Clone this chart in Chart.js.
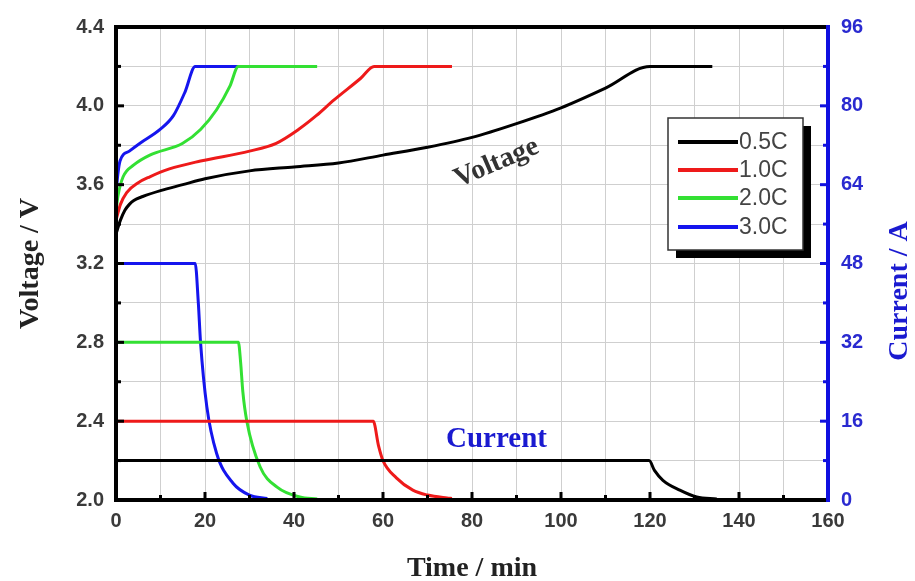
<!DOCTYPE html>
<html>
<head>
<meta charset="utf-8">
<script src="https://cdn.jsdelivr.net/npm/chart.js@4.4.1/dist/chart.umd.min.js"></script>
<style>
  html, body { margin: 0; padding: 0; background: #fff; }
  #wrap { width: 915px; height: 581px; }
</style>
</head>
<body>
<div id="wrap"><canvas id="chart" width="915" height="581"></canvas></div>
<script>
// charge curves: voltage (left axis) and current (right axis) vs time in minutes
var rates = ['0.5C', '1.0C', '2.0C', '3.0C'];
var rateColors = ['#000000', '#ee1a1a', '#33e033', '#1515ee'];

// voltage, V
var tV05 = [0, 1, 2, 3, 4, 6, 10, 15, 20, 30, 40, 50, 60, 70, 80, 90, 100, 110, 120, 134];
var vV05 = [3.35, 3.42, 3.47, 3.50, 3.52, 3.54, 3.57, 3.60, 3.63, 3.67, 3.69, 3.71, 3.75, 3.79, 3.84, 3.91, 3.99, 4.09, 4.20, 4.20];
var tV10 = [0, 1, 2.4, 5, 7.6, 12, 19, 30, 36, 41, 45, 49, 55, 58, 75.5];
var vV10 = [3.42, 3.50, 3.56, 3.61, 3.64, 3.68, 3.72, 3.77, 3.81, 3.88, 3.95, 4.03, 4.14, 4.20, 4.20];
var tV20 = [0, 0.5, 1.6, 4, 7.6, 15, 19, 22.6, 25.6, 27.5, 45.2];
var vV20 = [3.47, 3.55, 3.64, 3.70, 3.75, 3.81, 3.88, 3.98, 4.10, 4.20, 4.20];
var tV30 = [0, 0.4, 0.9, 3, 5.4, 9.9, 12.9, 15.5, 17.8, 34];
var vV30 = [3.55, 3.65, 3.72, 3.77, 3.81, 3.88, 3.95, 4.07, 4.20, 4.20];

// current, A
var tI05 = [0, 119.8, 121, 122.9, 126.7, 130.5, 135];
var iI05 = [8, 8, 6, 4, 2, 0.6, 0.2];
var tI10 = [0, 57.8, 59, 60, 63, 66.7, 70, 74.4, 75.5];
var iI10 = [16, 16, 11, 8, 4.5, 2, 1, 0.4, 0.3];
var tI20 = [0, 27.5, 28, 28.5, 29.4, 32.4, 36.2, 41.3, 45.2];
var iI20 = [32, 32, 28, 22, 16, 6.7, 2.6, 0.6, 0.2];
var tI30 = [0, 17.8, 18.5, 19, 20.4, 22.6, 26.3, 30, 34];
var iI30 = [48, 48, 40, 32, 19, 9.5, 3.4, 1, 0.3];

// axis ranges
var timeMax = 160, timeStep = 10;
var voltMin = 2.0, voltMax = 4.4, voltStep = 0.2;
var currMax = 96, currStep = 8;

function pts(t, v) {
  var out = [];
  for (var i = 0; i < t.length; i++) out.push({x: t[i], y: v[i]});
  return out;
}

var voltSets = [[tV05, vV05], [tV10, vV10], [tV20, vV20], [tV30, vV30]];
var currSets = [[tI05, iI05], [tI10, iI10], [tI20, iI20], [tI30, iI30]];

var datasets = [];
for (var k = 0; k < rates.length; k++) {
  datasets.push({
    label: rates[k],
    data: pts(voltSets[k][0], voltSets[k][1]),
    yAxisID: 'y',
    borderColor: rateColors[k],
    borderWidth: 3,
    pointRadius: 0,
    cubicInterpolationMode: 'monotone',
    showLine: true
  });
}
for (var k = 0; k < rates.length; k++) {
  datasets.push({
    label: rates[k] + ' I',
    data: pts(currSets[k][0], currSets[k][1]),
    yAxisID: 'y1',
    borderColor: rateColors[k],
    borderWidth: 3,
    pointRadius: 0,
    cubicInterpolationMode: 'monotone',
    showLine: true
  });
}

var tickFont = {family: 'Liberation Sans, Arial', size: 20, weight: 'bold'};
var titleFamily = 'Liberation Serif, Times New Roman, serif';

// frame, inward tick marks, legend box, text labels
var decorations = {
  id: 'decorations',
  afterDraw: function(chart) {
    var ctx = chart.ctx;
    var a = chart.chartArea;
    var sx = chart.scales.x, sy = chart.scales.y, sy1 = chart.scales.y1;
    ctx.save();

    // inward ticks
    ctx.lineWidth = 3;
    ctx.strokeStyle = '#000';
    for (var t = 0; t <= timeMax; t += timeStep) {
      var px = sx.getPixelForValue(t);
      var len = (t % 20 === 0) ? 8 : 5;
      ctx.beginPath(); ctx.moveTo(px, a.bottom); ctx.lineTo(px, a.bottom - len); ctx.stroke();
    }
    for (var i = 0; i <= Math.round((voltMax - voltMin) / voltStep); i++) {
      var py = sy.getPixelForValue(voltMin + i * voltStep);
      var len2 = (i % 2 === 0) ? 8 : 5;
      ctx.beginPath(); ctx.moveTo(a.left, py); ctx.lineTo(a.left + len2, py); ctx.stroke();
    }
    ctx.strokeStyle = '#1010e0';
    for (var c = 0; c <= currMax; c += currStep) {
      var py1 = sy1.getPixelForValue(c);
      var len3 = (c % 16 === 0) ? 8 : 5;
      ctx.beginPath(); ctx.moveTo(a.right, py1); ctx.lineTo(a.right - len3, py1); ctx.stroke();
    }

    // frame
    ctx.lineWidth = 4;
    ctx.strokeStyle = '#000';
    ctx.beginPath();
    ctx.moveTo(a.right, a.top); ctx.lineTo(a.left, a.top);
    ctx.lineTo(a.left, a.bottom); ctx.lineTo(a.right, a.bottom);
    ctx.stroke();
    ctx.strokeStyle = '#1010e0';
    ctx.beginPath(); ctx.moveTo(a.right, a.top - 2); ctx.lineTo(a.right, a.bottom + 2); ctx.stroke();

    // legend box with shadow
    var lx = 668, ly = 118, lw = 135, lh = 132;
    ctx.fillStyle = '#000';
    ctx.fillRect(lx + 8, ly + 8, lw, lh);
    ctx.fillStyle = '#fff';
    ctx.fillRect(lx, ly, lw, lh);
    ctx.lineWidth = 1.5;
    ctx.strokeStyle = '#333';
    ctx.strokeRect(lx, ly, lw, lh);
    ctx.font = '23px Liberation Sans, Arial';
    ctx.textBaseline = 'middle';
    ctx.textAlign = 'left';
    var rowY = [142, 170, 198, 227];
    for (var r = 0; r < rates.length; r++) {
      ctx.strokeStyle = rateColors[r];
      ctx.lineWidth = 4;
      ctx.beginPath(); ctx.moveTo(678, rowY[r]); ctx.lineTo(738, rowY[r]); ctx.stroke();
      ctx.fillStyle = '#444';
      ctx.fillText(rates[r], 739, rowY[r] + 1);
    }

    // curve labels
    ctx.save();
    ctx.translate(sx.getPixelForValue(85.5), sy.getPixelForValue(3.71));
    ctx.rotate(-23.3 * Math.PI / 180);
    ctx.font = 'bold 28px ' + titleFamily;
    ctx.fillStyle = '#333';
    ctx.textAlign = 'center';
    ctx.textBaseline = 'middle';
    ctx.fillText('Voltage', 0, 0);
    ctx.restore();

    ctx.font = 'bold 29px ' + titleFamily;
    ctx.fillStyle = '#1a1ad0';
    ctx.textAlign = 'center';
    ctx.textBaseline = 'middle';
    ctx.fillText('Current', sx.getPixelForValue(85.5), sy1.getPixelForValue(12.2));

    // right axis title, reads bottom to top
    ctx.save();
    ctx.translate(900, 291);
    ctx.rotate(-Math.PI / 2);
    ctx.font = 'bold 28px ' + titleFamily;
    ctx.fillStyle = '#1a1ad0';
    ctx.textAlign = 'center';
    ctx.textBaseline = 'middle';
    ctx.fillText('Current / A', 0, 0);
    ctx.restore();

    ctx.restore();
  }
};

new Chart(document.getElementById('chart'), {
  type: 'scatter',
  data: {datasets: datasets},
  options: {
    responsive: false,
    animation: false,
    layout: {padding: {top: 27, left: 0, right: 0, bottom: 0}},
    plugins: {legend: {display: false}, tooltip: {enabled: false}},
    scales: {
      x: {
        type: 'linear', min: 0, max: timeMax,
        afterFit: function(s) { s.height = 81; },
        ticks: {
          stepSize: timeStep, font: tickFont, color: '#3a3a3a', padding: 9, maxRotation: 0,
          callback: function(v) { return v % 20 === 0 ? String(v) : ''; }
        },
        grid: {color: '#cfcfcf', lineWidth: 1, drawTicks: false},
        border: {display: false},
        title: {display: true, text: 'Time / min', color: '#222', padding: {top: 0, bottom: -5},
                font: {family: titleFamily, size: 28, weight: 'bold'}}
      },
      y: {
        type: 'linear', position: 'left', min: voltMin, max: voltMax,
        afterFit: function(s) { s.width = 116; },
        ticks: {
          stepSize: voltStep, font: tickFont, color: '#3a3a3a', padding: 12,
          callback: function(v) { return Math.round(v * 10) % 4 === 0 ? v.toFixed(1) : ''; }
        },
        grid: {color: '#cfcfcf', lineWidth: 1, drawTicks: false},
        border: {display: false},
        title: {display: true, text: 'Voltage / V', color: '#222', padding: {top: 14, bottom: 0},
                font: {family: titleFamily, size: 28, weight: 'bold'}}
      },
      y1: {
        type: 'linear', position: 'right', min: 0, max: currMax,
        afterFit: function(s) { s.width = 87; },
        ticks: {
          stepSize: currStep, font: tickFont, color: '#2a2ad0', padding: 13,
          callback: function(v) { return v % 16 === 0 ? String(v) : ''; }
        },
        grid: {display: false, drawTicks: false},
        border: {display: false}
      }
    }
  },
  plugins: [decorations]
});
</script>
</body>
</html>
